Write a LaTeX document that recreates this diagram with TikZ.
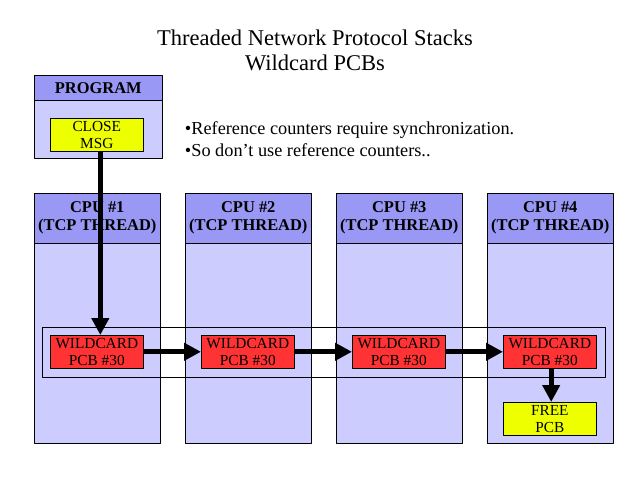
\documentclass[tikz,border=0pt]{standalone}
\usepackage{fontspec}
\setmainfont{Liberation Serif}
\usetikzlibrary{arrows.meta}
\definecolor{headblue}{HTML}{9999F5}
\definecolor{bodyblue}{HTML}{CCCCFF}
\definecolor{pcbred}{HTML}{FF3333}
\definecolor{msgyellow}{HTML}{EEFF00}
\tikzset{
	cpubody/.style={draw, fill=bodyblue, anchor=north west, inner sep=0pt, minimum width=3.15cm, minimum height=5cm},
	cpuhead/.style={draw, fill=headblue, anchor=north west, inner sep=0pt, align=center, minimum width=3.15cm, minimum height=1.25cm, font=\fontsize{11.7}{12.8}\selectfont\bfseries},
	pcbbox/.style={draw, fill=pcbred, anchor=north west, inner sep=0pt, align=center, minimum width=2.325cm, minimum height=0.825cm, font=\fontsize{10.9}{12}\selectfont},
	msgbox/.style={pcbbox, fill=msgyellow},
	flow/.style={->, line width=3.5pt}
}
\begin{document}
\begin{tikzpicture}[x=0.025cm, y=-0.025cm, line join=round, >={Triangle[length=12pt,width=12pt]}]
	\useasboundingbox (0,0) rectangle (640,477);
	\node[align=center, font=\fontsize{16}{17.7}\selectfont] (title) at (315,50) {Threaded Network Protocol Stacks\\Wildcard PCBs};
	% program box
	\node[cpubody, minimum width=3.2cm, minimum height=1.45cm] (progbody) at (34,100) {};
	\node[cpuhead, minimum width=3.2cm, minimum height=0.625cm] (proghead) at (34,75) {PROGRAM};
	\node[msgbox] (msg) at (50,118) {CLOSE\\MSG};
	\node[anchor=west, align=left, font=\fontsize{13}{16}\selectfont] (notes) at (180,139) {•Reference counters require synchronization.\\•So don't use reference counters..};
	% cpu columns
	\foreach \i/\x in {1/34,2/185,3/336,4/487}{
		\node[cpubody] (cpu\i) at (\x,243) {};
		\node[cpuhead] (head\i) at (\x,193) {CPU \#\i\\(TCP THREAD)};
	}
	\node[draw, anchor=north west, inner sep=0pt, minimum width=14.075cm, minimum height=1.25cm] (row) at (42,327) {};
	\foreach \i/\x in {1/50,2/201,3/352,4/503}
		\node[pcbbox] (pcb\i) at (\x,335) {WILDCARD\\PCB \#30};
	\node[msgbox] (free) at (503,402) {FREE\\PCB};
	% arrows
	\draw[flow] ([xshift=2.5pt]msg.south) -- ([xshift=2.5pt]pcb1.north);
	\foreach \a/\b in {1/2,2/3,3/4}
		\draw[flow] (pcb\a.east) -- (pcb\b.west);
	\draw[flow] ([xshift=1pt]pcb4.south) -- ([xshift=1pt]free.north);
\end{tikzpicture}
\end{document}
